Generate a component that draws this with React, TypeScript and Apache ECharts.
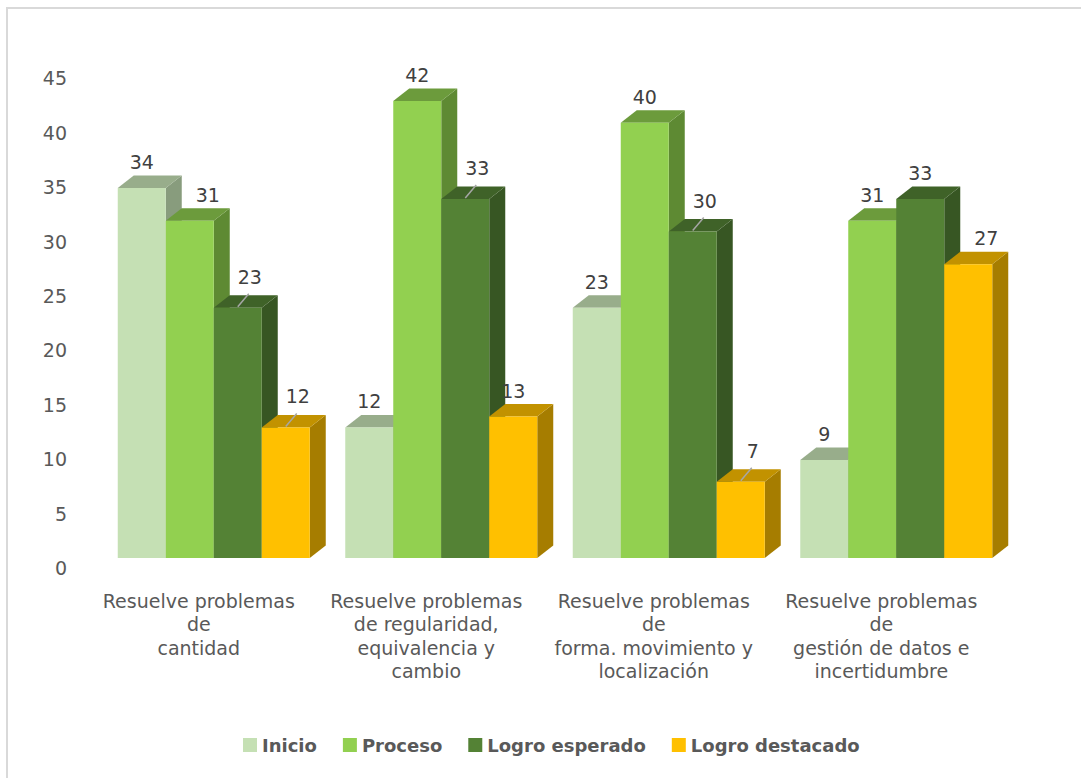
import React, { useEffect, useRef } from "react";
import * as echarts from "echarts";

const CATEGORIES = [
  "Resuelve problemas\nde\ncantidad",
  "Resuelve problemas\nde regularidad,\nequivalencia y\ncambio",
  "Resuelve problemas\nde\nforma. movimiento y\nlocalización",
  "Resuelve problemas\nde\ngestión de datos e\nincertidumbre",
];
const SERIES_NAMES = ["Inicio", "Proceso", "Logro esperado", "Logro destacado"];
const INICIO = [34, 12, 23, 9];
const PROCESO = [31, 42, 40, 31];
const LOGRO_ESPERADO = [23, 33, 30, 33];
const LOGRO_DESTACADO = [12, 13, 7, 27];
const SERIES_VALUES = [INICIO, PROCESO, LOGRO_ESPERADO, LOGRO_DESTACADO];
const Y_MIN = 0;
const Y_MAX = 45;
const Y_INTERVAL = 5;

// styling
const FRONT = ["#C5E0B4", "#92D050", "#548235", "#FFC000"];
const TOPC = ["#98AD8B", "#6C9B3C", "#3F6228", "#C29200"];
const SIDE = ["#889C7D", "#5E8A33", "#375623", "#A67D00"];
const BAR_W = 48;
const DX = 16;
const DY = 12.5;
const FONT = "DejaVu Sans";
// labels moved away from their bar with a leader line: [series, category]
const LEADER = [
  [2, 0],
  [3, 0],
  [2, 1],
  [2, 2],
  [3, 2],
];
// labels nudged right to clear the neighbouring bar
const NUDGE = [
  [1, 0],
  [3, 3],
];

const has = (list: number[][], s: number, c: number) =>
  list.some((p) => p[0] === s && p[1] === c);

export default function App() {
  const ref = useRef<HTMLDivElement>(null);
  useEffect(() => {
    if (!ref.current) return;
    const chart = echarts.init(ref.current, null, { renderer: "svg" });

    const renderItem = (params: any, api: any) => {
      const si = params.seriesIndex;
      const ci = api.value(0);
      const v = api.value(1);
      const top = api.coord([ci, v]);
      const base = api.coord([ci, 0]);
      const groupW = BAR_W * SERIES_NAMES.length;
      const x0 = top[0] - groupW / 2 + si * BAR_W;
      const x1 = x0 + BAR_W;
      const yt = top[1];
      const yb = base[1];
      const children: any[] = [
        {
          type: "polygon",
          shape: { points: [[x1, yt], [x1 + DX, yt - DY], [x1 + DX, yb - DY], [x1, yb]] },
          style: { fill: SIDE[si] },
        },
        {
          type: "polygon",
          shape: { points: [[x0, yt], [x1, yt], [x1 + DX, yt - DY], [x0 + DX, yt - DY]] },
          style: { fill: TOPC[si] },
        },
        {
          type: "rect",
          shape: { x: x0, y: yt, width: BAR_W, height: yb - yt },
          style: { fill: FRONT[si] },
        },
      ];
      const cx = x0 + BAR_W / 2;
      let lx = cx;
      let ly = yt - 26;
      if (has(LEADER, si, ci)) {
        children.push({
          type: "line",
          shape: { x1: cx, y1: yt - 1, x2: cx + 11, y2: yt - 14 },
          style: { stroke: "#A6A6A6", lineWidth: 1.5 },
        });
        lx = cx + 12;
        ly = yt - 31;
      } else if (has(NUDGE, si, ci)) {
        lx = cx + 18;
      }
      children.push({
        type: "text",
        x: lx,
        y: ly,
        z2: 10,
        style: {
          text: String(v),
          fill: "#404040",
          fontSize: 19,
          fontFamily: FONT,
          align: "center",
          verticalAlign: "middle",
        },
      });
      return { type: "group", children };
    };

    chart.setOption({
      animation: false,
      backgroundColor: "#ffffff",
      graphic: [
        {
          type: "rect",
          x: 7,
          y: 8,
          shape: { x: 0, y: 0, width: 1300, height: 1000 },
          style: { fill: "none", stroke: "#D9D9D9", lineWidth: 2 },
          silent: true,
        },
      ],
      grid: { left: 100, right: 71, top: 68.4, bottom: 220 },
      legend: {
        data: SERIES_NAMES,
        left: 238,
        top: 731,
        itemWidth: 14,
        itemHeight: 14,
        itemGap: 26,
        icon: "rect",
        textStyle: { fontFamily: FONT, fontSize: 18, fontWeight: "bold", color: "#595959" },
      },
      xAxis: {
        type: "category",
        data: CATEGORIES,
        axisLine: { show: false },
        axisTick: { show: false },
        axisLabel: {
          interval: 0,
          margin: 31,
          color: "#595959",
          fontFamily: FONT,
          fontSize: 19,
          lineHeight: 23.5,
          padding: [0, 30, 0, 0],
        },
      },
      yAxis: {
        type: "value",
        min: Y_MIN,
        max: Y_MAX,
        interval: Y_INTERVAL,
        axisLine: { show: false },
        axisTick: { show: false },
        splitLine: { show: false },
        axisLabel: {
          margin: 33,
          color: "#595959",
          fontFamily: FONT,
          fontSize: 19,
          lineHeight: 20,
          verticalAlign: "top",
        },
      },
      series: SERIES_NAMES.map((name, si) => ({
        name,
        type: "custom",
        renderItem,
        itemStyle: { color: FRONT[si] },
        encode: { x: 0, y: 1 },
        data: SERIES_VALUES[si].map((v, ci) => [ci, v]),
      })),
    });
    return () => chart.dispose();
  }, []);
  return (
    <div
      ref={ref}
      style={{ position: "fixed", left: 0, top: 0, width: 1081, height: 778 }}
    />
  );
}
